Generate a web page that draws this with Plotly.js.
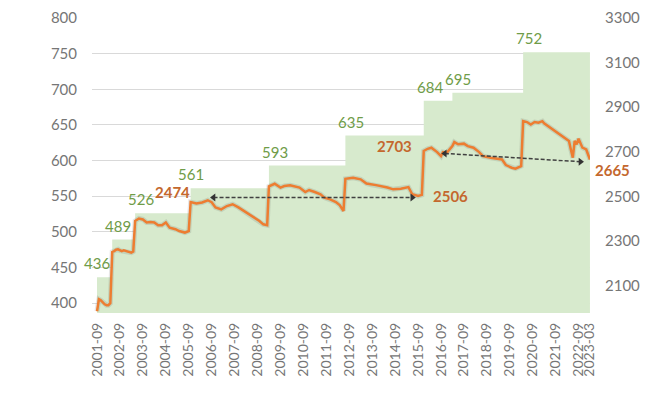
<!DOCTYPE html>
<html>
<head>
<meta charset="utf-8">
<script src="https://cdn.plot.ly/plotly-3.0.1.min.js"></script>
<style>html,body{margin:0;padding:0;background:#fff;}#chart{width:661px;height:394px;}</style>
</head>
<body>
<div id="chart"></div>
<script>
// ---- Data ----
const xTickLabels = ['2001-09','2002-09','2003-09','2004-09','2005-09','2006-09','2007-09','2008-09','2009-09','2010-09','2011-09','2012-09','2013-09','2014-09','2015-09','2016-09','2017-09','2018-09','2019-09','2020-09','2021-09','2022-09','2023-03'];

// Green step series (left axis)
const stepDates = ['2001-09','2002-05','2003-05','2005-10','2009-03','2012-07','2015-12','2017-03','2020-04','2023-03'];
const stepValues = [436,489,526,561,593,635,684,695,752,752];

// Orange line series (right axis)
const lineDates = [
 '2001-09','2001-10','2001-11','2001-12','2002-01','2002-02','2002-03','2002-04',
 '2002-05','2002-06','2002-07','2002-08','2002-09','2002-10','2002-11','2002-12','2003-01','2003-02','2003-03','2003-04',
 '2003-05','2003-07','2003-09','2003-11','2004-01','2004-03','2004-05','2004-07','2004-09','2004-11','2005-02','2005-04','2005-07','2005-09',
 '2005-10','2006-01','2006-04','2006-07','2006-09','2006-11','2007-02','2007-05','2007-08','2007-11','2008-03','2008-06','2008-10','2008-12','2009-02',
 '2009-03','2009-06','2009-09','2009-11','2010-02','2010-07','2010-10','2010-12','2011-03','2011-06','2011-08','2011-11','2012-02','2012-04','2012-06',
 '2012-07','2012-11','2013-03','2013-06','2013-08','2013-11','2014-05','2014-08','2014-12','2015-04','2015-06','2015-09','2015-11',
 '2015-12','2016-02','2016-04','2016-07','2016-09','2016-10','2016-12','2017-03','2017-04','2017-06','2017-09','2017-11','2018-02','2018-05','2018-07','2018-11','2019-02','2019-05','2019-07','2019-10','2019-12','2020-01','2020-03',
 '2020-04','2020-06','2020-08','2020-10','2020-12','2021-02','2021-03','2021-06','2021-09','2021-11','2022-02','2022-04','2022-05','2022-06','2022-07','2022-08','2022-09','2022-11','2023-01','2023-03'
];
const lineValues = [
 1984,2038,2033,2024,2015,2011,2011,2020,
 2250,2254,2260,2262,2256,2254,2257,2255,2250,2248,2247,2252,
 2389,2400,2396,2382,2384,2382,2370,2370,2382,2359,2352,2344,2337,2344,
 2474,2468,2472,2482,2473,2450,2441,2456,2464,2450,2428,2411,2389,2374,2370,
 2544,2556,2539,2546,2549,2539,2519,2528,2519,2509,2494,2486,2474,2460,2434,
 2578,2583,2576,2557,2553,2550,2539,2531,2534,2541,2509,2501,2506,
 2703,2713,2718,2698,2680,2698,2695,2725,2743,2733,2736,2725,2718,2698,2680,2673,2669,2665,2640,2628,2624,2628,2635,
 2837,2833,2822,2833,2830,2837,2827,2808,2792,2778,2758,2748,2710,2673,2748,2733,2758,2718,2710,2665
];

// Highlighted values on the line
const markDates = ['2005-10','2015-12','2015-11','2023-03'];
const markValues = [2474,2703,2506,2665];

// Dashed comparison arrows (right axis units)
const arrow1Dates = ['2006-10','2015-06'];
const arrow1Values = [2494,2494];
const arrow2Dates = ['2016-11','2022-10'];
const arrow2Values = [2692,2655];

// ---- Styles ----
const FONT = 'Lato, "Open Sans", "Liberation Sans", sans-serif';
const GREEN_FILL = '#d7eacd';
const GREEN_TEXT = '#6f9c48';
const ORANGE = '#ED7D31';
const ORANGE_TEXT = '#c4682e';
const TICK_COLOR = '#767676';

const traces = [
  {
    x: stepDates, y: stepValues, type: 'scatter', mode: 'lines',
    line: {shape: 'hv', width: 0, color: GREEN_FILL},
    fill: 'tozeroy', fillcolor: GREEN_FILL, yaxis: 'y', hoverinfo: 'skip'
  },
  {
    x: lineDates, y: lineValues, type: 'scatter', mode: 'lines',
    line: {width: 5, color: 'rgba(60,60,60,0.13)'}, yaxis: 'y2', hoverinfo: 'skip'
  },
  {
    x: lineDates, y: lineValues, type: 'scatter', mode: 'lines',
    line: {width: 2.5, color: ORANGE}, yaxis: 'y2'
  },
  {
    x: arrow1Dates, y: arrow1Values, type: 'scatter', mode: 'lines+markers', yaxis: 'y2',
    line: {dash: '4px,2px', width: 1.5, color: '#404040'},
    marker: {symbol: ['triangle-left','triangle-right'], size: 7, color: '#333'}
  },
  {
    x: arrow2Dates, y: arrow2Values, type: 'scatter', mode: 'lines+markers', yaxis: 'y2',
    line: {dash: '4px,2px', width: 1.5, color: '#404040'},
    marker: {symbol: ['triangle-left','triangle-right'], size: 7, color: '#333'}
  }
];

const annotations = [];
for (let i = 0; i < stepValues.length - 1; i++) {
  annotations.push({
    x: stepDates[i], y: stepValues[i], xref: 'x', yref: 'y',
    text: String(stepValues[i]), showarrow: false,
    xanchor: 'center', yanchor: 'bottom', xshift: (i === 0 || i === 3) ? 0 : 6, yshift: 3,
    font: {family: FONT, size: 15, color: GREEN_TEXT}
  });
}
const markStyle = [
  {xanchor: 'right', yanchor: 'middle', xshift: 1, yshift: 10},
  {xanchor: 'right', yanchor: 'middle', xshift: -10, yshift: 5},
  {xanchor: 'left', yanchor: 'middle', xshift: 9, yshift: -1},
  {xanchor: 'left', yanchor: 'middle', xshift: 3, yshift: -11}
];
for (let i = 0; i < markValues.length; i++) {
  annotations.push(Object.assign({
    x: markDates[i], y: markValues[i], xref: 'x', yref: 'y2',
    text: '<b>' + markValues[i] + '</b>', showarrow: false,
    font: {family: FONT, size: 15, color: ORANGE_TEXT}
  }, markStyle[i]));
}

const layout = {
  width: 661, height: 394,
  margin: {l: 92, r: 71, t: 18, b: 81, pad: 0},
  paper_bgcolor: '#ffffff', plot_bgcolor: '#ffffff',
  showlegend: false, hovermode: false,
  font: {family: FONT, color: TICK_COLOR},
  xaxis: {
    type: 'date', range: ['2001-06-13', '2023-03-02'],
    tickmode: 'array',
    tickvals: xTickLabels.map(s => s + '-01'),
    ticktext: xTickLabels,
    tickangle: -90, ticks: '', showgrid: false, zeroline: false, showline: false,
    tickfont: {family: FONT, size: 14, color: TICK_COLOR},
    ticklabelstandoff: 6
  },
  yaxis: {
    range: [386, 800], tick0: 400, dtick: 50,
    showgrid: true, gridcolor: '#d9d9d9', gridwidth: 1, zeroline: false, showline: false, ticks: '',
    tickfont: {family: FONT, size: 15, color: TICK_COLOR},
    ticklabelstandoff: 14
  },
  yaxis2: {
    overlaying: 'y', side: 'right', range: [1976, 3300], tick0: 2100, dtick: 200,
    showgrid: false, zeroline: false, showline: false, ticks: '',
    tickfont: {family: FONT, size: 15, color: TICK_COLOR},
    ticklabelstandoff: 14
  },
  annotations: annotations
};

Plotly.newPlot('chart', traces, layout, {staticPlot: true, displayModeBar: false});
</script>
</body>
</html>
